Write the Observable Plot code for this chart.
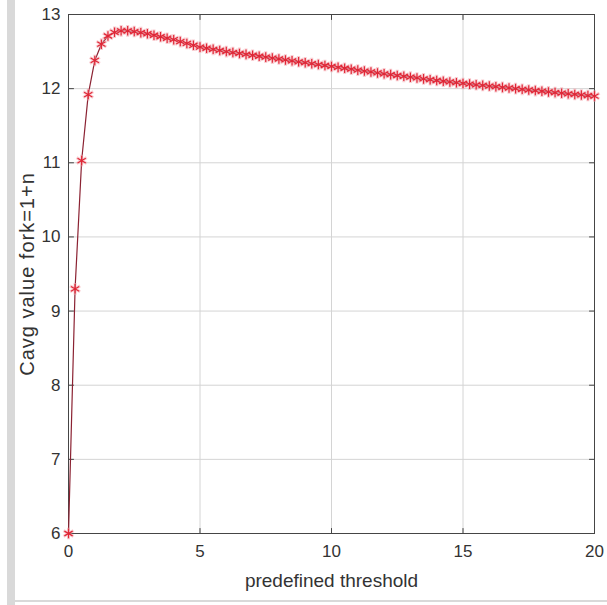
<!DOCTYPE html>
<html>
<head>
<meta charset="utf-8">
<script src="https://cdn.jsdelivr.net/npm/d3@7"></script>
<script src="https://cdn.jsdelivr.net/npm/@observablehq/plot@0.6"></script>
<style>
  html, body { margin: 0; padding: 0; background: #fff; }
  #wrap { position: relative; width: 607px; height: 605px; overflow: hidden; }
  #bar { position: absolute; left: 7px; top: 0; width: 8px; height: 605px; background: #d9d9d9; }
  #bottomline { position: absolute; left: 15px; top: 600px; width: 592px; height: 2px; background: #d9d9d9; }
  #chart { position: absolute; left: 0; top: 0; }
</style>
</head>
<body>
<div id="wrap">
  <div id="bar"></div>
  <div id="bottomline"></div>
  <div id="chart"></div>
</div>
<script>
// predefined threshold values
const thresholds = [
  0, 0.25, 0.5, 0.75, 1, 1.25, 1.5, 1.75, 2, 2.25, 2.5, 2.75,
  3, 3.25, 3.5, 3.75, 4, 4.25, 4.5, 4.75, 5, 5.25, 5.5, 5.75,
  6, 6.25, 6.5, 6.75, 7, 7.25, 7.5, 7.75, 8, 8.25, 8.5, 8.75,
  9, 9.25, 9.5, 9.75, 10, 10.25, 10.5, 10.75, 11, 11.25, 11.5, 11.75,
  12, 12.25, 12.5, 12.75, 13, 13.25, 13.5, 13.75, 14, 14.25, 14.5, 14.75,
  15, 15.25, 15.5, 15.75, 16, 16.25, 16.5, 16.75, 17, 17.25, 17.5, 17.75,
  18, 18.25, 18.5, 18.75, 19, 19.25, 19.5, 19.75, 20
];
// Cavg value for k=1+n
const cavg = [
  6.00, 9.30, 11.03, 11.92, 12.38, 12.60, 12.71, 12.76, 12.78, 12.78, 12.77, 12.755,
  12.74, 12.72, 12.70, 12.68, 12.66, 12.635, 12.61, 12.585, 12.56, 12.545, 12.53, 12.515,
  12.50, 12.487, 12.475, 12.462, 12.45, 12.437, 12.425, 12.412, 12.40, 12.387, 12.375, 12.362,
  12.35, 12.337, 12.325, 12.312, 12.30, 12.287, 12.275, 12.262, 12.25, 12.237, 12.225, 12.212,
  12.20, 12.189, 12.177, 12.166, 12.155, 12.144, 12.132, 12.121, 12.11, 12.10, 12.09, 12.08,
  12.07, 12.061, 12.052, 12.044, 12.035, 12.026, 12.017, 12.009, 12.00, 11.991, 11.982, 11.974,
  11.965, 11.956, 11.947, 11.939, 11.93, 11.922, 11.915, 11.907, 11.90
];
const xTicks = [0, 5, 10, 15, 20];
const yTicks = [6, 7, 8, 9, 10, 11, 12, 13];
const xLabel = "predefined threshold";
const yLabel = "Cavg value fork=1+n";

const data = thresholds.map((t, i) => ({t, v: cavg[i]}));
const frameColor = "#454545";
const fmt = d => String(d);

// a plain line segment used as an inward tick mark
const tickShape = {
  draw(context, l) {
    context.moveTo(0, 0);
    context.lineTo(0, -l);
  }
};
const inTick = (anchor, rotate, ticks, ch) =>
  Plot.vector(ticks, {[ch]: d => d, frameAnchor: anchor, rotate, length: 5, anchor: "start", shape: tickShape, stroke: frameColor, strokeWidth: 1});

const chart = Plot.plot({
  width: 607,
  height: 605,
  marginLeft: 68,
  marginRight: 13,
  marginTop: 14,
  marginBottom: 72,
  style: {fontFamily: "'Liberation Sans', Arial, sans-serif", fontSize: "17px", color: "#333", background: "transparent"},
  x: {domain: [0, 20]},
  y: {domain: [6, 13]},
  marks: [
    Plot.gridX(xTicks, {stroke: "#d4d4d4", strokeOpacity: 1}),
    Plot.gridY(yTicks, {stroke: "#d4d4d4", strokeOpacity: 1}),
    Plot.frame({stroke: frameColor}),
    // inward tick marks on all four sides
    inTick("bottom", 0, xTicks, "x"),
    inTick("top", 180, xTicks, "x"),
    inTick("left", 90, yTicks, "y"),
    inTick("right", -90, yTicks, "y"),
    // tick labels and axis titles
    Plot.axisX(xTicks, {anchor: "bottom", tickSize: 0, tickPadding: 11, fontSize: 17, tickFormat: fmt, label: xLabel, labelAnchor: "center", labelArrow: "none", labelOffset: 53}),
    Plot.axisY(yTicks, {anchor: "left", tickSize: 0, tickPadding: 8, fontSize: 17, tickFormat: fmt, label: yLabel, labelAnchor: "center", labelArrow: "none", labelOffset: 49}),
    Plot.line(data, {x: "t", y: "v", stroke: "#8b2232", strokeWidth: 1.2}),
    Plot.dot(data, {x: "t", y: "v", symbol: "asterisk", r: 5.5, stroke: "#f2a4ac", strokeWidth: 3, strokeOpacity: 0.55}),
    Plot.dot(data, {x: "t", y: "v", symbol: "asterisk", r: 4.5, stroke: "#e02636", strokeWidth: 1.2})
  ]
});
document.getElementById("chart").appendChild(chart);

// enlarge axis titles
d3.select(chart).selectAll("g[aria-label='x-axis label'] text").style("font-size", "19px");
d3.select(chart).selectAll("g[aria-label='y-axis label'] text").style("font-size", "20px").style("letter-spacing", "1px");
</script>
</body>
</html>
